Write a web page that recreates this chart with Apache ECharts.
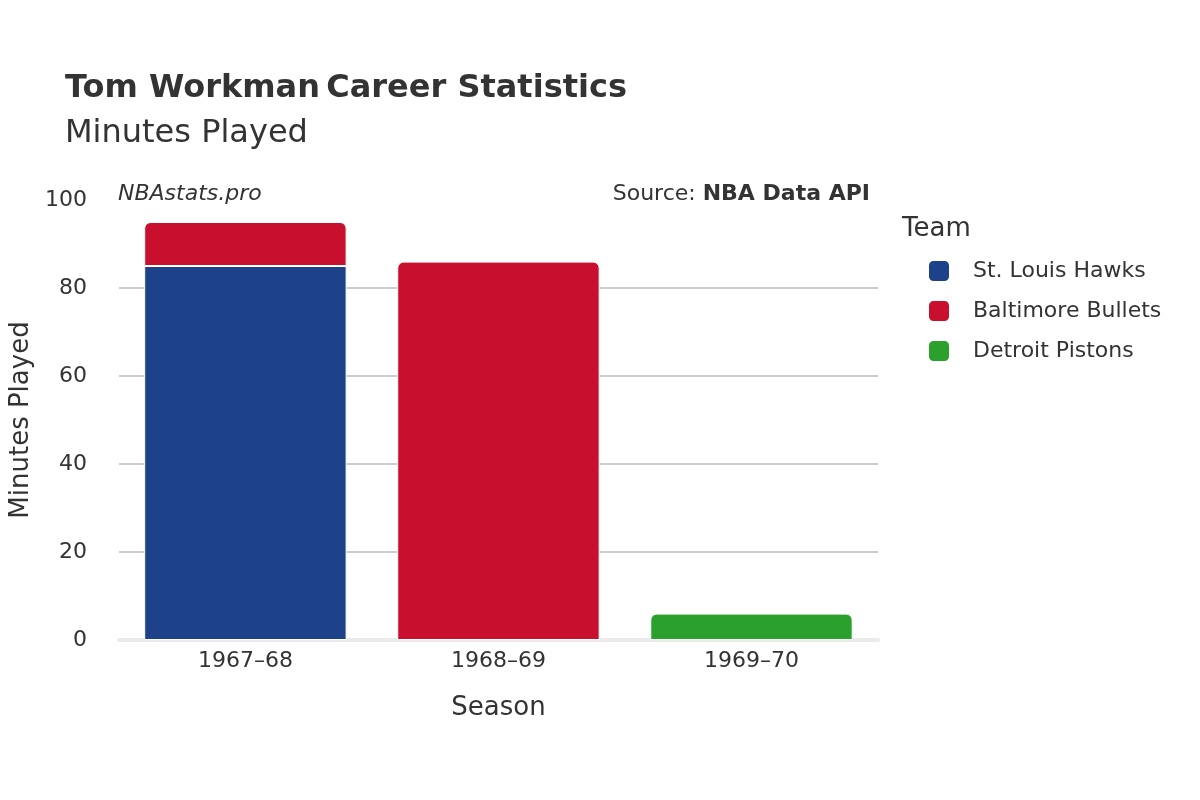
<!DOCTYPE html>
<html><head><meta charset="utf-8">
<script src="https://cdn.jsdelivr.net/npm/echarts@6/dist/echarts.min.js"></script>
<style>html,body{margin:0;background:#fff}#c{width:1200px;height:800px}</style>
</head><body><div id="c"></div>
<script>
const seasons = ['1967–68', '1968–69', '1969–70'];
const hawks = [85, null, null];
const bullets = [10, 86, null];
const pistons = [null, null, 6];
const yTicks = [0, 20, 40, 60, 80, 100];

const F = '"DejaVu Sans", sans-serif';
const chart = echarts.init(document.getElementById('c'));
function roundTop(arr) { return arr.map(v => v == null ? null : { value: v, itemStyle: { borderRadius: [6, 6, 0, 0] } }); }
chart.setOption({
  animation: false,
  textStyle: { fontFamily: F },
  title: [
    { left: 60, top: 68, text: '{b|Tom Workman} {n|Career Statistics}', textStyle: { rich: { b: { fontSize: 32, fontWeight: 'bold', color: '#333', fontFamily: F }, n: { fontSize: 32, color: '#333', fontFamily: F } } } },
    { left: 60, top: 113, text: 'Minutes Played', textStyle: { fontSize: 32, fontWeight: 'normal', color: '#333', fontFamily: F } },
    { left: 113, top: 178, text: 'NBAstats.pro', textStyle: { fontSize: 22, fontStyle: 'italic', fontWeight: 'normal', color: '#333', fontFamily: F } },
    { right: 325, top: 178, text: 'Source: {b|NBA Data API}', textStyle: { fontSize: 22, fontWeight: 'normal', color: '#333', fontFamily: F, rich: { b: { fontSize: 22, fontWeight: 'bold', color: '#333', fontFamily: F } } } },
    { left: 897, top: 211, text: 'Team', textStyle: { fontSize: 26, fontWeight: 'normal', color: '#333', fontFamily: F } }
  ],
  legend: {
    orient: 'vertical', left: 922, top: 254, itemWidth: 22, itemHeight: 22, itemGap: 16,
    icon: 'roundRect', textStyle: { fontSize: 22, color: '#333', padding: [0, 0, 0, 18] },
    data: ['St. Louis Hawks', 'Baltimore Bullets', 'Detroit Pistons']
  },
  grid: { left: 108, right: 322, top: 200, bottom: 160 },
  xAxis: {
    type: 'category', data: seasons, name: 'Season', nameLocation: 'middle', nameGap: 55,
    nameTextStyle: { fontSize: 26, color: '#333' },
    axisLine: { lineStyle: { color: '#ebebeb', width: 4 } }, axisTick: { show: false },
    axisLabel: { fontSize: 22, color: '#333', margin: 10 }
  },
  yAxis: {
    type: 'value', min: 0, max: 100, interval: 20, name: 'Minutes Played', nameLocation: 'middle', nameGap: 75,
    nameTextStyle: { fontSize: 26, color: '#333' },
    axisLabel: { fontSize: 22, color: '#333', margin: 32 },
    splitLine: { lineStyle: { color: ['rgba(0,0,0,0)', '#bbb', '#bbb', '#bbb', '#bbb', 'rgba(0,0,0,0)'], width: 1.5 } }
  },
  series: [
    { name: 'St. Louis Hawks', type: 'bar', stack: 's', barCategoryGap: '20%', data: hawks, itemStyle: { color: '#1d428a', borderColor: '#fff', borderWidth: 1 } },
    { name: 'Baltimore Bullets', type: 'bar', stack: 's', data: roundTop(bullets), itemStyle: { color: '#c8102e', borderColor: '#fff', borderWidth: 1 } },
    { name: 'Detroit Pistons', type: 'bar', stack: 's', data: roundTop(pistons), itemStyle: { color: '#2ca02c', borderColor: '#fff', borderWidth: 1 } }
  ]
});
</script></body></html>
